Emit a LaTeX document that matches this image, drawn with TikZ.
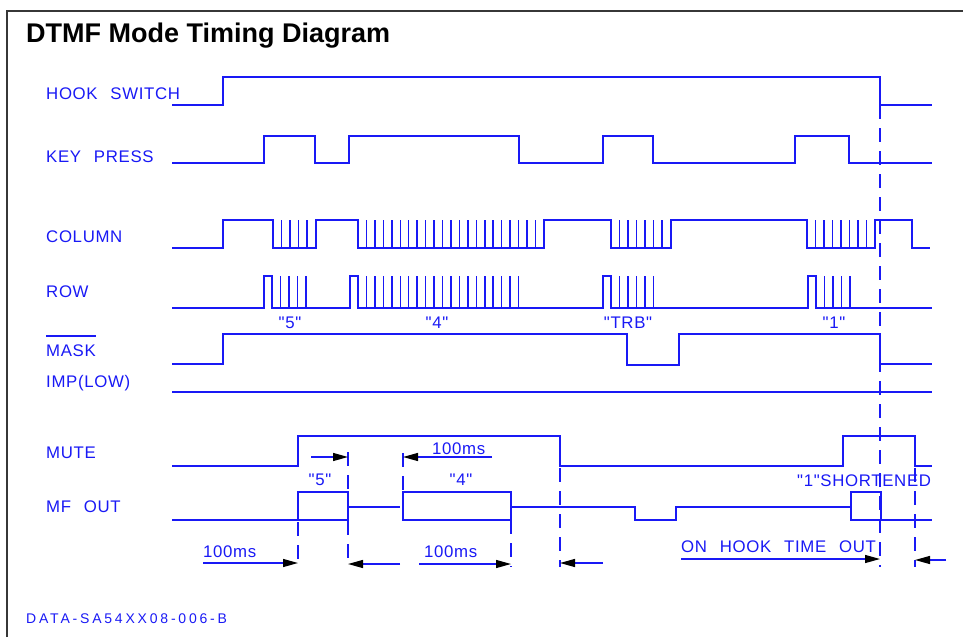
\documentclass[tikz,border=0pt]{standalone}
\usepackage{fontspec}
\setmainfont{Liberation Sans}
\newfontfamily\cadfont[LetterSpace=4,WordSpace=2.4]{Liberation Sans}
\newfontfamily\cadwide[LetterSpace=20]{Liberation Sans}
\usetikzlibrary{arrows.meta}
\definecolor{cadblue}{RGB}{25,25,245}
\definecolor{framegray}{RGB}{55,55,55}

\tikzset{
  wave/.style={cadblue,line width=1.5pt},
  marker/.style={cadblue,line width=1.2pt,dash pattern=on 14pt off 9pt},
  span/.style={cadblue,line width=1.3pt,-{Triangle[length=15pt,width=8pt,color=black]}},
  sig/.style={cadblue,font=\cadfont\fontsize{16.8}{18}\selectfont,anchor=base west,inner sep=0pt},
  val/.style={sig,anchor=base},
}

\begin{document}
\begin{tikzpicture}[x=1pt,y=-1pt]
 \useasboundingbox (0,0) rectangle (963,637);
 \draw[framegray,line width=2pt] (7,637) -- (7,10.5) -- (963,10.5);
 \node[anchor=base west,inner sep=0pt,font=\bfseries\fontsize{27}{30}\selectfont] (title) at (26,42) {DTMF Mode Timing Diagram};
 %
 % signal names
 \node[sig] (hook) at (46,99) {HOOK SWITCH};
 \node[sig] (key) at (46,162) {KEY PRESS};
 \node[sig] (col) at (46,242) {COLUMN};
 \node[sig] (row) at (46,297) {ROW};
 \node[sig] (mask) at (46,356) {MASK};
 \draw[cadblue,line width=1.2pt] ([yshift=8pt]mask.north west) -- ([yshift=8pt]mask.north east);
 \node[sig] (imp) at (46,387) {IMP(LOW)};
 \node[sig] (mute) at (46,458) {MUTE};
 \node[sig] (mf) at (46,512) {MF OUT};
 \node[sig,font=\cadwide\fontsize{14}{16}\selectfont] (ref) at (26,623) {DATA-SA54XX08-006-B};
 %
 % waveforms
 \draw[wave] (172,105) -- (223,105) -- (223,77) -- (880,77) -- (880,105) -- (932,105);
 \draw[wave] (172,163) -- (264,163) -- (264,136) -- (315,136) -- (315,163) -- (349,163) -- (349,136)
   -- (519,136) -- (519,163) -- (603,163) -- (603,136) -- (653,136) -- (653,163) -- (795,163)
   -- (795,136) -- (849,136) -- (849,163) -- (932,163);
 \draw[wave] (172,248) -- (223,248) -- (223,220) -- (273,220) -- (273,248) -- (316,248) -- (316,220)
   -- (358,220) -- (358,248) -- (544,248) -- (544,220) -- (611,220) -- (611,248) -- (671,248)
   -- (671,220) -- (807,220) -- (807,248) -- (875,248) -- (875,220) -- (912,220) -- (912,248) -- (930,248);
 \foreach \s/\n/\w in {273/4/8.5, 358/21/8.45, 611/6/8.5, 807/7/8.5}
   \foreach \i in {1,...,\n}
     \draw[wave] ({\s+\w*\i},248) -- ++(0,-28);
 \draw[wave] (172,308) -- (264,308) -- (264,276) -- (272,276) -- (272,308) -- (350,308) -- (350,276)
   -- (358,276) -- (358,308) -- (603,308) -- (603,276) -- (611,276) -- (611,308) -- (808,308)
   -- (808,276) -- (816,276) -- (816,308) -- (932,308);
 \foreach \s/\n/\w in {272/4/8.5, 358/19/8.45, 611/5/8.5, 816/4/8.5}
   \foreach \i in {1,...,\n}
     \draw[wave] ({\s+\w*\i},308) -- ++(0,-32);
 \node[val] (row5) at (290,328) {"5"};
 \node[val] (row4) at (437,328) {"4"};
 \node[val] (rowtrb) at (628,328) {"TRB"};
 \node[val] (row1) at (834,328) {"1"};
 \draw[wave] (172,364) -- (223,364) -- (223,334) -- (627,334) -- (627,365) -- (679,365) -- (679,334)
   -- (880,334) -- (880,364) -- (932,364);
 \draw[wave] (172,392) -- (932,392);
 \draw[wave] (172,466) -- (298,466) -- (298,436) -- (560,436) -- (560,466) -- (843,466) -- (843,436)
   -- (915,436) -- (915,466) -- (932,466);
 \draw[wave] (172,520) -- (298,520);
 \draw[wave] (298,492) rectangle (348,520);
 \draw[wave] (348,507) -- (400,507);
 \draw[wave] (403,492) rectangle (511,520);
 \draw[wave] (511,507) -- (635,507) -- (635,520) -- (676,520) -- (676,507) -- (851,507);
 \draw[wave] (851,492) rectangle (881,520);
 \draw[wave] (881,520) -- (932,520);
 \node[val] (mf5) at (320,485) {"5"};
 \node[val] (mf4) at (461,485) {"4"};
 \node[sig] (mf1) at (797,486) {"1"SHORTENED};
 %
 % time markers
 \draw[marker] (298,522) -- (298,567);
 \draw[marker] (348,452) -- (348,567);
 \draw[marker] (403,453) -- (403,492);
 \draw[marker] (511,520) -- (511,567);
 \draw[marker] (560,468) -- (560,567);
 \draw[marker] (880,105) -- (880,567);
 \draw[marker] (915,468) -- (915,567);
 %
 % spans
 \draw[span] (311,457) -- (348,457);
 \draw[span] (492,457) -- (403,457);
 \node[sig] (t1) at (432,454) {100ms};
 \draw[span] (203,563) -- (298,563);
 \node[sig] (t2) at (203,557) {100ms};
 \draw[span] (400,564) -- (348,564);
 \draw[span] (419,564) -- (511,564);
 \node[sig] (t3) at (424,557) {100ms};
 \draw[span] (603,563) -- (560,563);
 \draw[span] (681,559) -- (880,559);
 \node[sig] (tout) at (681,552) {ON HOOK TIME OUT};
 \draw[span] (946,560) -- (915,560);
\end{tikzpicture}
\end{document}
